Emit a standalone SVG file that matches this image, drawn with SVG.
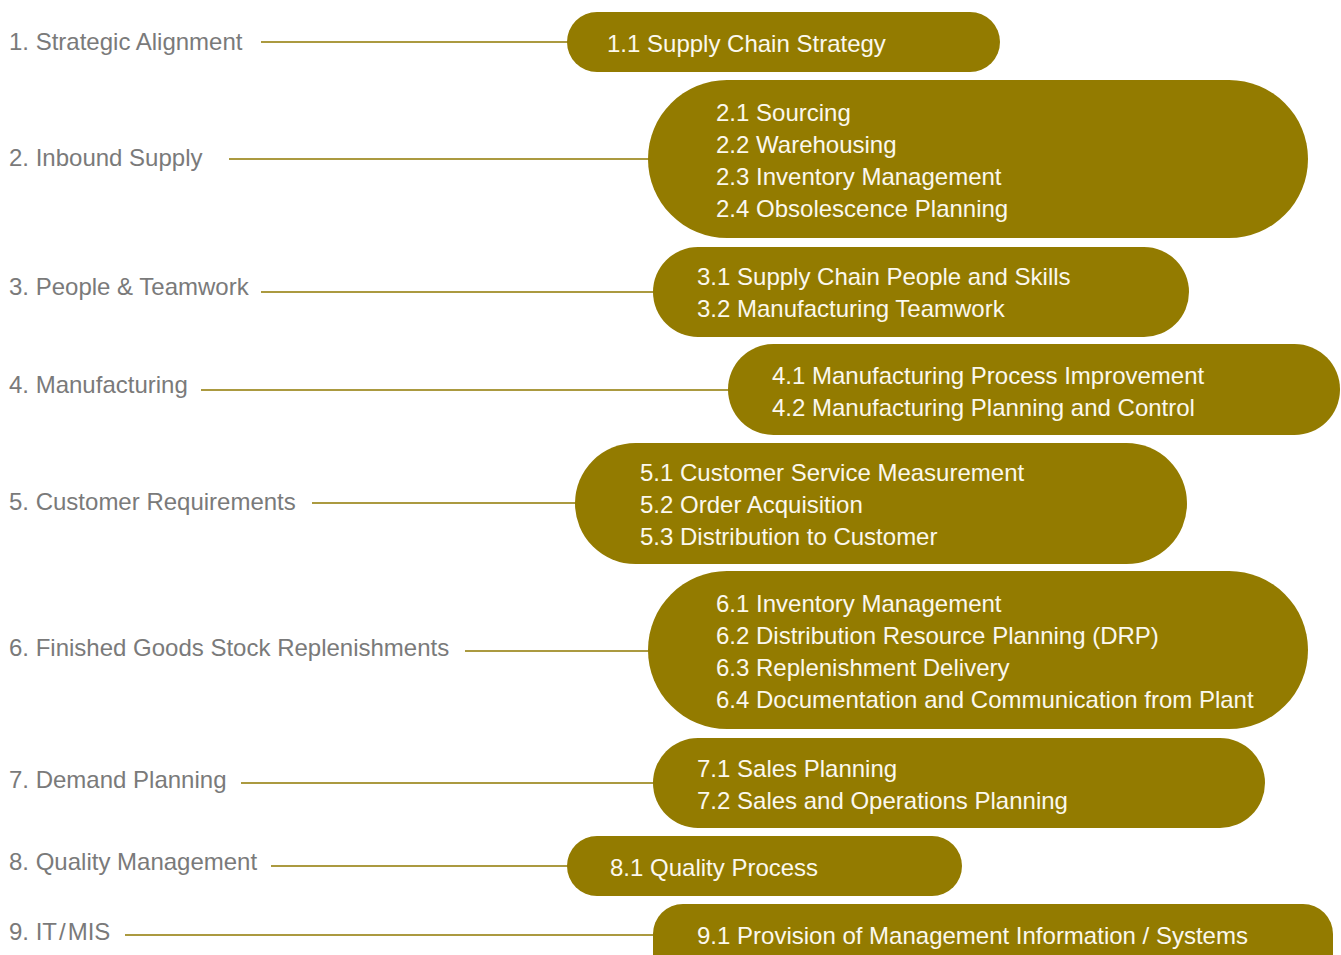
<svg xmlns="http://www.w3.org/2000/svg" width="1341" height="955" viewBox="0 0 1341 955">
<style>
.lbl{font-family:"Liberation Sans",Arial,sans-serif;font-size:24px;fill:#7a7a7a}
.pill{fill:#937b00}
.pt{font-family:"Liberation Sans",Arial,sans-serif;font-size:24px;fill:#fbf8ee}
.con{stroke:#8f7800;stroke-width:1.3;fill:none}
</style>
<rect width="1341" height="955" fill="#ffffff"/>
<g id="connectors">
<line class="con" x1="261" y1="42" x2="570" y2="42"/>
<line class="con" x1="229" y1="159" x2="651" y2="159"/>
<line class="con" x1="261" y1="292" x2="656" y2="292"/>
<line class="con" x1="201" y1="390" x2="731" y2="390"/>
<line class="con" x1="312" y1="503" x2="578" y2="503"/>
<line class="con" x1="465" y1="651" x2="651" y2="651"/>
<line class="con" x1="241" y1="783" x2="656" y2="783"/>
<line class="con" x1="271" y1="866" x2="570" y2="866"/>
<line class="con" x1="125" y1="935" x2="656" y2="935"/>
</g>
<g id="row1">
<text class="lbl" x="9" y="50">1. Strategic Alignment</text>
<rect class="pill" x="567" y="12" width="433" height="60" rx="30"/>
<text class="pt" x="607" y="52">1.1 Supply Chain Strategy</text>
</g>
<g id="row2">
<text class="lbl" x="9" y="166">2. Inbound Supply</text>
<rect class="pill" x="648" y="80" width="660" height="158" rx="79"/>
<text class="pt" x="716" y="121">2.1 Sourcing</text>
<text class="pt" x="716" y="153">2.2 Warehousing</text>
<text class="pt" x="716" y="185">2.3 Inventory Management</text>
<text class="pt" x="716" y="217">2.4 Obsolescence Planning</text>
</g>
<g id="row3">
<text class="lbl" x="9" y="295">3. People &amp; Teamwork</text>
<rect class="pill" x="653" y="247" width="536" height="90" rx="45"/>
<text class="pt" x="697" y="285">3.1 Supply Chain People and Skills</text>
<text class="pt" x="697" y="317">3.2 Manufacturing Teamwork</text>
</g>
<g id="row4">
<text class="lbl" x="9" y="393">4. Manufacturing</text>
<rect class="pill" x="728" y="344" width="612" height="91" rx="45.5"/>
<text class="pt" x="772" y="384">4.1 Manufacturing Process Improvement</text>
<text class="pt" x="772" y="416">4.2 Manufacturing Planning and Control</text>
</g>
<g id="row5">
<text class="lbl" x="9" y="510">5. Customer Requirements</text>
<rect class="pill" x="575" y="443" width="612" height="121" rx="60.5"/>
<text class="pt" x="640" y="481">5.1 Customer Service Measurement</text>
<text class="pt" x="640" y="513">5.2 Order Acquisition</text>
<text class="pt" x="640" y="545">5.3 Distribution to Customer</text>
</g>
<g id="row6">
<text class="lbl" x="9" y="656">6. Finished Goods Stock Replenishments</text>
<rect class="pill" x="648" y="571" width="660" height="158" rx="79"/>
<text class="pt" x="716" y="612">6.1 Inventory Management</text>
<text class="pt" x="716" y="644">6.2 Distribution Resource Planning (DRP)</text>
<text class="pt" x="716" y="676">6.3 Replenishment Delivery</text>
<text class="pt" x="716" y="708">6.4 Documentation and Communication from Plant</text>
</g>
<g id="row7">
<text class="lbl" x="9" y="788">7. Demand Planning</text>
<rect class="pill" x="653" y="738" width="612" height="90" rx="45"/>
<text class="pt" x="697" y="777">7.1 Sales Planning</text>
<text class="pt" x="697" y="809">7.2 Sales and Operations Planning</text>
</g>
<g id="row8">
<text class="lbl" x="9" y="870">8. Quality Management</text>
<rect class="pill" x="567" y="836" width="395" height="60" rx="30"/>
<text class="pt" x="610" y="876">8.1 Quality Process</text>
</g>
<g id="row9">
<text class="lbl" x="9" y="940">9. IT<tspan dx="2">/</tspan><tspan dx="2">MIS</tspan></text>
<rect class="pill" x="653" y="904" width="680" height="80" rx="30"/>
<text class="pt" x="697" y="944">9.1 Provision of Management Information / Systems</text>
</g>
</svg>
